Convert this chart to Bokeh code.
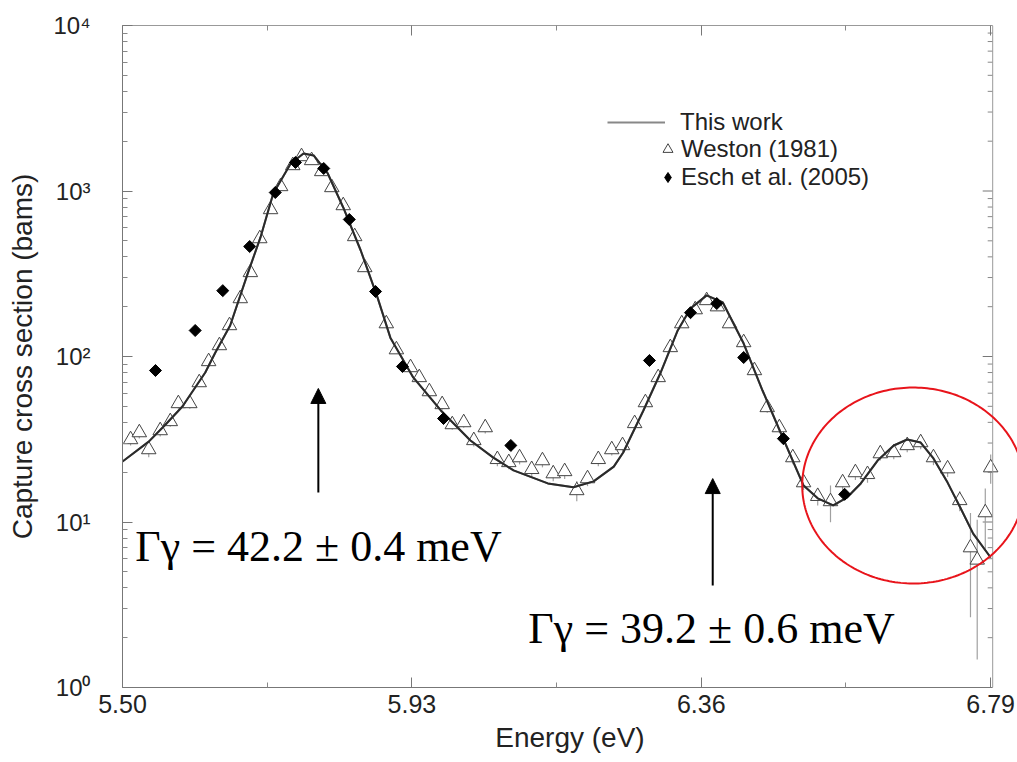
import numpy as np
from bokeh.plotting import figure
from bokeh.models import (ColumnDataSource, FixedTicker, LinearAxis, Legend,
                          LegendItem, Arrow, NormalHead, Label, PolyAnnotation,
                          CustomJSTickFormatter, Span)
from bokeh.embed import file_html
from bokeh.resources import INLINE

# ---------------- data ----------------
fit_energy = [5.500, 5.539, 5.564, 5.589, 5.623, 5.638, 5.660, 5.686, 5.705, 5.724,
              5.750, 5.769, 5.784, 5.805, 5.828, 5.854, 5.879, 5.898, 5.932, 5.973,
              6.017, 6.051, 6.081, 6.132, 6.170, 6.200, 6.230, 6.244, 6.274, 6.299,
              6.325, 6.344, 6.368, 6.392, 6.423, 6.451, 6.481, 6.512, 6.533, 6.556,
              6.577, 6.597, 6.622, 6.646, 6.666, 6.686, 6.705, 6.726, 6.745, 6.764, 6.790]
fit_xs = [23.2, 30.6, 38.8, 49.9, 80.1, 105.7, 153.9, 317, 524, 966,
          1466, 1685, 1639, 1276, 795, 437, 227, 130, 74.7, 47.2,
          31.1, 24.5, 20.5, 17.1, 16.2, 17.6, 21.6, 26.3, 47.2, 78.9,
          143.6, 195, 234, 212, 119.8, 62.3, 32.4, 16.6, 13.9, 12.6,
          14.1, 17.1, 23.5, 29.0, 31.5, 30.2, 24.2, 17.3, 12.2, 8.5, 6.1]

weston_energy = [5.512, 5.525, 5.539, 5.556, 5.571, 5.583, 5.600, 5.614, 5.628, 5.644,
                 5.659, 5.675, 5.690, 5.704, 5.720, 5.735, 5.753, 5.766, 5.781, 5.796,
                 5.811, 5.828, 5.845, 5.860, 5.892, 5.907, 5.928, 5.941, 5.956, 5.975,
                 5.990, 6.007, 6.022, 6.039, 6.057, 6.074, 6.090, 6.108, 6.124, 6.140,
                 6.157, 6.175, 6.191, 6.207, 6.227, 6.243, 6.261, 6.277, 6.296, 6.314,
                 6.331, 6.351, 6.368, 6.384, 6.402, 6.423, 6.439, 6.458, 6.476, 6.496,
                 6.512, 6.533, 6.552, 6.570, 6.589, 6.607, 6.626, 6.646, 6.666, 6.686,
                 6.705, 6.726, 6.744, 6.760, 6.770, 6.782, 6.790]
weston_xs = [31.5, 34.7, 27.4, 35.7, 40.5, 52.0, 52.0, 69.6, 93.3, 116.5,
             153.9, 224, 322, 516, 773, 1065, 1426, 1616, 1529, 1312,
             1050, 817, 531, 345, 158, 110, 85.8, 74.7, 61.4, 51.3,
             38.8, 39.9, 31.1, 37.2, 23.9, 22.9, 24.5, 20.8, 23.5, 19.6,
             20.2, 15.5, 18.3, 23.9, 27.4, 29.0, 39.4, 52.7, 74.7, 113.4,
             158, 192, 218, 200, 158, 121.5, 82.3, 49.2, 37.2, 24.5,
             17.3, 14.3, 13.3, 17.3, 19.9, 19.4, 25.9, 26.3, 29.0, 30.2,
             24.5, 21.0, 13.5, 7.0, 5.9, 11.4, 21.3]
weston_err_pct = [8, 8, 10, 8, 7, 7, 7, 6, 6, 6,
                  5, 5, 4, 4, 4, 3, 3, 3, 3, 3,
                  3, 4, 4, 4, 5, 5, 6, 6, 6, 7,
                  7, 7, 8, 8, 9, 9, 9, 10, 9, 10,
                  10, 14, 10, 9, 8, 8, 7, 6, 6, 5,
                  5, 4, 4, 4, 5, 5, 6, 7, 7, 9,
                  10, 12, 25, 11, 10, 11, 9, 9, 9, 9,
                  10, 11, 14, 62, 75, 40, 20]

esch_energy = [5.549, 5.608, 5.649, 5.689, 5.727, 5.757, 5.799, 5.837, 5.876, 5.916,
               5.977, 6.077, 6.283, 6.344, 6.383, 6.423, 6.482, 6.573]
esch_xs = [82.3, 143.6, 250, 462, 979, 1487, 1368, 673, 247, 87.0,
           42.2, 29.0, 94.6, 184, 209, 98.6, 31.9, 14.7]

x_ticks = [5.50, 5.93, 6.36, 6.79]
x_tick_labels = ["5.50", "5.93", "6.36", "6.79"]
y_ticks = [1, 10, 100, 1000, 10000]
y_tick_labels = ["10\u2070", "10\u00b9", "10\u00b2", "10\u00b3", "10\u2074"]

gamma1_text = "\u0393\u03b3 = 42.2 \u00b1 0.4 meV"
gamma2_text = "\u0393\u03b3 = 39.2 \u00b1 0.6 meV"

# ---------------- figure ----------------
SANS = "Liberation Sans"
X0, X_EDGE = 5.5, 6.793          # axis box spans X0..X_EDGE
PX_PER_EV = 673.0
X_VIEW_END = X0 + 895 / PX_PER_EV  # frame continues to page edge (for the red ring)

p = figure(frame_width=895, frame_height=662,
           x_range=(X0, X_VIEW_END), y_range=(1, 10000), y_axis_type="log",
           output_backend="svg", toolbar_location=None,
           min_border_left=122, min_border_top=25, min_border_right=0,
           min_border_bottom=60, background_fill_color="white",
           border_fill_color="white")
p.grid.visible = False
p.outline_line_color = None

x_minor = [(a + b) / 2 for a, b in zip(x_ticks[:-1], x_ticks[1:])]
y_minor = [m * t for t in y_ticks[:-1] for m in range(2, 10)]
xticker = FixedTicker(ticks=x_ticks, minor_ticks=x_minor)
yticker = FixedTicker(ticks=y_ticks, minor_ticks=y_minor)

AX_COL = "#777777"


def style_axis(ax):
    ax.major_tick_in = 10
    ax.major_tick_out = 0
    ax.minor_tick_in = 5
    ax.minor_tick_out = 0
    ax.axis_line_color = AX_COL
    ax.major_tick_line_color = AX_COL
    ax.minor_tick_line_color = "#888888"
    ax.major_label_text_font = SANS
    ax.major_label_text_font_size = "25px"
    ax.major_label_text_color = "#222222"
    ax.axis_label_text_font = SANS
    ax.axis_label_text_font_style = "normal"
    ax.axis_label_text_font_size = "28px"
    ax.axis_label_text_color = "#222222"


xa = p.xaxis[0]
xa.ticker = xticker
xa.bounds = (X0, X_EDGE)
xa.major_label_overrides = {t: s for t, s in zip(x_ticks, x_tick_labels)}
xa.axis_label = "Energy (eV)"
style_axis(xa)
xa.major_label_standoff = 7
xa.axis_label_standoff = 6

ya = p.yaxis[0]
ya.ticker = yticker
ya.major_label_overrides = {t: s for t, s in zip(y_ticks, y_tick_labels)}
ya.axis_label = "Capture cross section (bams)"
style_axis(ya)
ya.major_label_text_font_size = "24px"
ya.axis_label_text_font_size = "28px"
ya.major_label_standoff = 32
ya.axis_label_standoff = 12

blank = CustomJSTickFormatter(code="return ''")
top = LinearAxis(ticker=xticker, formatter=blank, bounds=(X0, X_EDGE))
style_axis(top)
top.axis_line_color = "#999999"
p.add_layout(top, "above")

# right-hand edge of the axis box with inward ticks
p.add_layout(Span(location=X_EDGE, dimension="height", line_color="#999999",
                  line_width=1))
maj_len, min_len = 10 / PX_PER_EV, 5 / PX_PER_EV
p.segment(x0=[X_EDGE - maj_len] * len(y_ticks), y0=y_ticks,
          x1=[X_EDGE] * len(y_ticks), y1=y_ticks, line_color=AX_COL, line_width=1)
p.segment(x0=[X_EDGE - min_len] * len(y_minor), y0=y_minor,
          x1=[X_EDGE] * len(y_minor), y1=y_minor, line_color="#888888", line_width=1)

# ---------------- glyphs ----------------
err_src = ColumnDataSource(dict(
    x=weston_energy,
    lo=[y * (1 - e / 100) for y, e in zip(weston_xs, weston_err_pct)],
    hi=[y * (1 + e / 100) for y, e in zip(weston_xs, weston_err_pct)],
))
p.segment(x0="x", y0="lo", x1="x", y1="hi", source=err_src,
          line_color="#a0a0a0", line_width=1.2)

tri = p.scatter(weston_energy, weston_xs, marker="triangle", size=14.5,
                fill_color="white", line_color="#444444", line_width=1)
# key renderers: lie fully underneath the visible marks, only used for the key symbols
key_line = p.line(fit_energy, fit_xs, line_color="#888888", line_width=2)
fit = p.line(fit_energy, fit_xs, line_color="#2a2a2a", line_width=2)
key_dia = p.scatter(esch_energy, esch_xs, marker="diamond", size=9,
                    fill_color="black", line_color="black")
dia = p.scatter(esch_energy, esch_xs, marker="square", angle=np.pi / 4, size=8.5,
                fill_color="black", line_color="black")

# ---------------- legend ----------------
leg1 = Legend(items=[LegendItem(label="This work", renderers=[key_line])],
              location=(485, 551), glyph_width=58, glyph_height=28,
              label_height=28, label_standoff=15, padding=0, margin=0,
              border_line_alpha=0, background_fill_alpha=0,
              label_text_font=SANS, label_text_font_size="24px",
              label_text_color="#222222")
leg2 = Legend(items=[LegendItem(label="Weston (1981)", renderers=[tri]),
                     LegendItem(label="Esch et al. (2005)", renderers=[key_dia])],
              location=(533, 496), glyph_width=25, glyph_height=28,
              label_height=28, spacing=0, label_standoff=1, padding=0, margin=0,
              border_line_alpha=0, background_fill_alpha=0,
              label_text_font=SANS, label_text_font_size="24px",
              label_text_color="#222222")
p.add_layout(leg1, "center")
p.add_layout(leg2, "center")

# ---------------- annotations ----------------
head1 = NormalHead(size=15, fill_color="black", line_color="black")
head2 = NormalHead(size=15, fill_color="black", line_color="black")
p.add_layout(Arrow(x_start=5.791, y_start=15.1, x_end=5.791, y_end=64.1,
                   end=head1, line_color="black", line_width=2))
p.add_layout(Arrow(x_start=6.377, y_start=4.13, x_end=6.377, y_end=18.3,
                   end=head2, line_color="black", line_width=2))

p.add_layout(Label(x=5.519, y=7.11, text=gamma1_text, text_font="Liberation Serif",
                   text_font_size="44px", text_color="black",
                   text_baseline="alphabetic"))
p.add_layout(Label(x=6.103, y=2.27, text=gamma2_text, text_font="Liberation Serif",
                   text_font_size="44px", text_color="black",
                   text_baseline="alphabetic"))

t = np.linspace(0, 2 * np.pi, 240)
ell_x = 6.675 + 0.165 * np.cos(t)
ell_y = 10 ** (1.2205 + 0.592 * np.sin(t))
p.add_layout(PolyAnnotation(xs=list(ell_x), ys=list(ell_y), fill_alpha=0,
                            line_color="#e8141b", line_alpha=1, line_width=2))

open("out.html", "w").write(file_html(p, INLINE))
